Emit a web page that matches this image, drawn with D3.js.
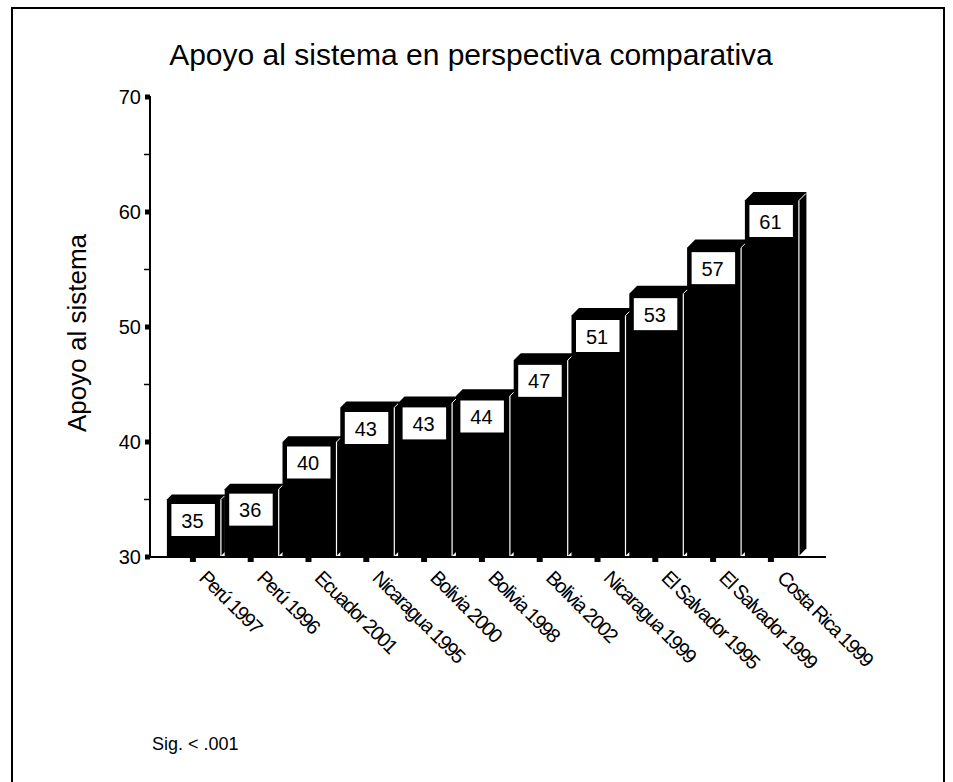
<!DOCTYPE html>
<html><head><meta charset="utf-8">
<script src="https://cdn.jsdelivr.net/npm/d3@7"></script>
<style>body{margin:0;background:#fff}svg{display:block;font-family:"Liberation Sans",Arial,sans-serif}</style>
</head><body><svg id="c" width="953" height="782"></svg>
<script>
const categories = ["Perú 1997","Perú 1996","Ecuador 2001","Nicaragua 1995","Bolivia 2000","Bolivia 1998","Bolivia 2002","Nicaragua 1999","El Salvador 1995","El Salvador 1999","Costa Rica 1999"];
const values = [35.0,35.9,40.0,43.0,43.4,44.0,47.1,51.0,52.9,56.9,61.0];
const valueLabels = ["35","36","40","43","43","44","47","51","53","57","61"];
const yTicks = [30,40,50,60,70];
const yMinorTicks = [35,45,55,65];
const title = "Apoyo al sistema en perspectiva comparativa";
const yTitle = "Apoyo al sistema";
const note = "Sig. < .001";

const svg = d3.select("#c");
svg.append("rect").attr("x",12).attr("y",8).attr("width",932).attr("height",790)
  .attr("fill","none").attr("stroke","#000").attr("stroke-width",2);

const y = d3.scaleLinear().domain([30,70]).range([557,97]);
const x = d3.scaleBand().domain(categories).range([164, 164+11*57.8]).padding(0);
const base = y(30);

svg.append("text").attr("x",471).attr("y",65).attr("text-anchor","middle")
  .attr("font-size",30).text(title);
svg.append("text").attr("transform","translate(86,333) rotate(-90)").attr("text-anchor","middle")
  .attr("font-size",26).text(yTitle);
svg.append("text").attr("x",152).attr("y",750).attr("font-size",18).text(note);

// bars
const g = svg.append("g");
categories.forEach((c,i)=>{
  const cx = x(c) + x.bandwidth()/2;
  const x0 = cx-26, x1 = cx+27;
  const yt = y(values[i]);
  const d = 5 + 0.35*i;
  const bg = g.append("g");
  bg.append("path").attr("d",`M${x0},${yt}L${x0+d},${yt-d}L${x1+d},${yt-d}L${x1+d},${base-d}L${x1},${base}L${x0},${base}Z`).attr("fill","#000");
  bg.append("line").attr("x1",x1+1).attr("x2",x1+1).attr("y1",yt).attr("y2",base).attr("stroke","#fff").attr("stroke-width",1.2);
  bg.append("line").attr("x1",x1+1).attr("x2",x1+d-0.5).attr("y1",yt).attr("y2",yt-d+1.5).attr("stroke","#fff").attr("stroke-width",1);
  bg.append("rect").attr("x",x0+4.5).attr("y",yt+4.5).attr("width",x1-x0-9.5).attr("height",32).attr("fill","#fff");
  bg.append("text").attr("x",(x0+x1)/2 - 1).attr("y",yt+28).attr("text-anchor","middle")
    .attr("font-size",20).text(valueLabels[i]);
});

// axes
svg.append("line").attr("x1",150).attr("x2",150).attr("y1",96).attr("y2",base+1).attr("stroke","#000").attr("stroke-width",2);
svg.append("line").attr("x1",146).attr("x2",826).attr("y1",base).attr("y2",base).attr("stroke","#000").attr("stroke-width",2);
yTicks.forEach(t=>{
  svg.append("rect").attr("x",145).attr("y",y(t)-2.5).attr("width",5).attr("height",5).attr("fill","#000");
  svg.append("text").attr("x",141).attr("y",y(t)+7).attr("text-anchor","end").attr("font-size",20).text(t);
});
yMinorTicks.forEach(t=>{
  svg.append("line").attr("x1",144).attr("x2",150).attr("y1",y(t)).attr("y2",y(t)).attr("stroke","#000").attr("stroke-width",1.5);
});
categories.forEach(c=>{
  const cx = x(c) + x.bandwidth()/2;
  svg.append("rect").attr("x",cx-3).attr("y",base).attr("width",6).attr("height",5).attr("fill","#000");
  svg.append("text").attr("transform",`translate(${cx+5},${base+22}) rotate(45)`)
    .attr("font-size",20).attr("letter-spacing",-1.5).text(c);
});
</script></body></html>
